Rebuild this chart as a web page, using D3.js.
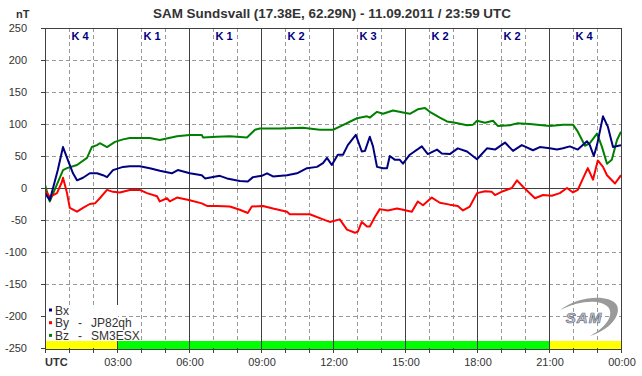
<!DOCTYPE html>
<html>
<head>
<meta charset="utf-8">
<script src="https://cdn.jsdelivr.net/npm/d3@7"></script>
<style>
    body { margin: 0; background: #fff; }
    svg { display: block; font-family: Arial, "Liberation Sans", sans-serif; }
</style>
</head>
<body>
<div id="chart"></div>
<script>
// minutes since 00:00 UTC, value in nT
var bxTimes = [0, 12, 32, 45, 57, 70, 80, 95, 112, 130, 145, 155, 170, 195, 212, 237, 262, 287, 317, 332, 362, 392, 400, 437, 455, 487, 507, 520, 542, 555, 570, 605, 630, 655, 680, 695, 705, 717, 732, 745, 757, 777, 792, 800, 812, 820, 830, 845, 855, 862, 875, 887, 895, 912, 942, 957, 980, 992, 1012, 1032, 1055, 1080, 1105, 1125, 1150, 1170, 1192, 1220, 1237, 1262, 1280, 1295, 1312, 1332, 1355, 1362, 1372, 1380, 1395, 1407, 1420, 1440]
var bxValues = [-8, -19, 28, 64, 44, 23, 12, 16, 23, 23, 20, 17, 28, 33, 34, 34, 31, 27, 23, 28, 23, 20, 15, 19, 15, 11, 10, 17, 19, 23, 18, 20, 23, 31, 33, 39, 47, 36, 52, 52, 67, 83, 57, 58, 80, 65, 33, 31, 31, 50, 44, 44, 38, 52, 65, 53, 60, 54, 53, 62, 57, 45, 62, 60, 71, 58, 67, 59, 64, 62, 60, 62, 65, 60, 73, 67, 50, 67, 112, 96, 64, 67]

var byTimes = [0, 12, 30, 42, 45, 55, 62, 80, 95, 112, 125, 137, 155, 170, 187, 212, 237, 255, 280, 287, 305, 312, 330, 362, 392, 405, 430, 462, 487, 507, 517, 545, 570, 605, 612, 662, 695, 712, 737, 755, 775, 782, 792, 805, 812, 825, 837, 857, 880, 895, 917, 932, 945, 967, 987, 1012, 1032, 1045, 1062, 1080, 1100, 1117, 1125, 1145, 1167, 1180, 1195, 1225, 1245, 1267, 1287, 1305, 1320, 1332, 1345, 1357, 1370, 1382, 1395, 1405, 1425, 1440]
var byValues = [-3, -14, -8, 9, 16, -8, -31, -37, -31, -25, -24, -16, -3, -6, -7, -3, -3, -8, -13, -21, -16, -21, -15, -19, -24, -28, -28, -29, -34, -39, -29, -28, -32, -37, -41, -41, -49, -53, -49, -65, -70, -68, -53, -60, -60, -45, -33, -35, -32, -34, -37, -21, -27, -15, -23, -26, -28, -35, -29, -8, -5, -6, -11, -5, 0, 12, 2, -16, -11, -12, -8, 0, -7, -3, 15, 31, 13, 43, 33, 20, 7, 20]

var bzTimes = [0, 12, 45, 55, 80, 105, 117, 130, 137, 155, 175, 195, 212, 262, 287, 330, 362, 392, 395, 430, 462, 505, 525, 537, 587, 645, 687, 720, 737, 780, 805, 812, 830, 845, 870, 895, 912, 932, 950, 962, 987, 1005, 1025, 1055, 1070, 1080, 1100, 1120, 1132, 1162, 1180, 1212, 1262, 1295, 1320, 1332, 1350, 1362, 1380, 1392, 1405, 1417, 1430, 1440]
var bzValues = [5, -21, 28, 31, 36, 47, 64, 67, 70, 64, 72, 76, 78, 78, 75, 81, 83, 83, 79, 80, 81, 79, 91, 93, 93, 94, 91, 91, 96, 109, 112, 110, 119, 116, 121, 118, 116, 123, 125, 119, 110, 104, 102, 98, 99, 105, 102, 105, 97, 98, 101, 100, 97, 99, 99, 88, 66, 70, 85, 65, 38, 44, 75, 88]

// K index per 3 hour block
var kIndex = ["K 4", "K 1", "K 1", "K 2", "K 3", "K 2", "K 2", "K 4"]
// status bar under the plot: start minute, end minute, colour
var statusStart = [0, 180, 1260]
var statusEnd = [180, 1260, 1440]
var statusColor = ["#ffff00", "#00ff00", "#ffff00"]

var yTicks = [250, 200, 150, 100, 50, 0, -50, -100, -150, -200, -250]
var xLabels = ["UTC", "03:00", "06:00", "09:00", "12:00", "15:00", "18:00", "21:00", "00:00"]

var seriesNames = ["Bx", "By", "Bz"]
var seriesStations = ["", "JP82qh", "SM3ESX"]
var seriesColors = ["#000080", "#ff0000", "#008000"]

//---------------------------------------------------
// init parameters
//---------------------------------------------------
var width = 642,
    height = 376
var plotLeft = 45, plotRight = 621, plotTop = 28, plotBottom = 348

var svg = d3.select("#chart").append("svg")
    .attr("width", width)
    .attr("height", height)

var x = d3.scaleLinear().domain([0, 1440]).range([plotLeft, plotRight])
var y = d3.scaleLinear().domain([-250, 250]).range([plotBottom, plotTop])

var gridColor = "#999"
var axisColor = "#404040"

//------------------------------------------
// grid
//------------------------------------------
var hours = d3.range(1, 24)
svg.selectAll(".vgrid")
    .data(hours.filter(function (h) { return h % 3 != 0 }))
    .enter().append("line")
    .attr("x1", function (h) { return x(h * 60) + 0.5 })
    .attr("x2", function (h) { return x(h * 60) + 0.5 })
    .attr("y1", plotTop)
    .attr("y2", plotBottom)
    .style("stroke", gridColor)
    .style("stroke-dasharray", "4,3")

svg.selectAll(".hgrid")
    .data(yTicks.filter(function (v) { return v != 0 && Math.abs(v) != 250 }))
    .enter().append("line")
    .attr("x1", plotLeft)
    .attr("x2", plotRight)
    .attr("y1", function (v) { return Math.round(y(v)) + 0.5 })
    .attr("y2", function (v) { return Math.round(y(v)) + 0.5 })
    .style("stroke", gridColor)
    .style("stroke-dasharray", "4,3")

svg.selectAll(".vmajor")
    .data(hours.filter(function (h) { return h % 3 == 0 }))
    .enter().append("line")
    .attr("x1", function (h) { return x(h * 60) + 0.5 })
    .attr("x2", function (h) { return x(h * 60) + 0.5 })
    .attr("y1", plotTop)
    .attr("y2", plotBottom)
    .style("stroke", axisColor)

// zero line
svg.append("line")
    .attr("x1", plotLeft).attr("x2", plotRight)
    .attr("y1", y(0) + 0.5).attr("y2", y(0) + 0.5)
    .style("stroke", axisColor)

//------------------------------------------
// status bar
//------------------------------------------
svg.selectAll(".status")
    .data(statusStart)
    .enter().append("rect")
    .attr("x", function (d) { return x(d) })
    .attr("width", function (d, i) { return x(statusEnd[i]) - x(d) })
    .attr("y", plotBottom - 7)
    .attr("height", 8)
    .style("fill", function (d, i) { return statusColor[i] })

svg.selectAll(".vmajor2")
    .data(hours.filter(function (h) { return h % 3 == 0 }))
    .enter().append("line")
    .attr("x1", function (h) { return x(h * 60) + 0.5 })
    .attr("x2", function (h) { return x(h * 60) + 0.5 })
    .attr("y1", plotBottom - 7)
    .attr("y2", plotBottom)
    .style("stroke", axisColor)

//------------------------------------------
// logo
//------------------------------------------
var logo = svg.append("g").attr("transform", "translate(588,318)")
logo.append("path")
    .attr("d", "M -28 -8 C -10 -22 20 -24 28 -14 C 34 -6 26 10 2 18 C 20 8 26 -4 20 -11 C 12 -19 -8 -18 -28 -8 Z")
    .style("fill", "#9a9a9a")
logo.append("text")
    .attr("x", -4).attr("y", 5)
    .attr("text-anchor", "middle")
    .style("font-size", "15px")
    .style("font-style", "italic")
    .style("font-weight", "bold")
    .style("letter-spacing", "1px")
    .style("fill", "#c8ccd8")
    .style("stroke", "#6a6f80")
    .style("stroke-width", "0.7px")
    .text("SAM")

//------------------------------------------
// data lines
//------------------------------------------
svg.append("clipPath").attr("id", "plot-clip")
    .append("rect")
    .attr("x", plotLeft).attr("y", plotTop)
    .attr("width", plotRight - plotLeft).attr("height", plotBottom - plotTop)

var series = [
    { t: bxTimes, v: bxValues },
    { t: byTimes, v: byValues },
    { t: bzTimes, v: bzValues }
]
var line = d3.line()
    .x(function (d) { return x(d[0]) })
    .y(function (d) { return y(d[1]) })

// green on the bottom, navy on top
var drawOrder = [2, 1, 0]
drawOrder.forEach(function (k) {
    var pts = series[k].t.map(function (t, i) { return [t, series[k].v[i]] })
    svg.append("path")
        .datum(pts)
        .attr("d", line)
        .attr("clip-path", "url(#plot-clip)")
        .style("fill", "none")
        .style("stroke", seriesColors[k])
        .style("stroke-width", 2)
        .style("stroke-linejoin", "round")
})

//------------------------------------------
// frame, ticks and labels
//------------------------------------------
svg.append("rect")
    .attr("x", plotLeft + 0.5).attr("y", plotTop + 0.5)
    .attr("width", plotRight - plotLeft).attr("height", plotBottom - plotTop + 1)
    .style("fill", "none")
    .style("stroke", axisColor)

svg.selectAll(".ytick")
    .data(yTicks)
    .enter().append("line")
    .attr("x1", plotLeft - 4).attr("x2", plotLeft)
    .attr("y1", function (v) { return Math.round(y(v)) + 0.5 })
    .attr("y2", function (v) { return Math.round(y(v)) + 0.5 })
    .style("stroke", axisColor)

svg.selectAll(".ylabel")
    .data(yTicks)
    .enter().append("text")
    .attr("x", 27)
    .attr("y", function (v) { return y(v) + 4 })
    .attr("text-anchor", "end")
    .style("font-size", "11px")
    .style("fill", "#333")
    .text(function (v) { return v })

svg.selectAll(".xtick")
    .data(d3.range(0, 25))
    .enter().append("line")
    .attr("x1", function (h) { return x(h * 60) + 0.5 })
    .attr("x2", function (h) { return x(h * 60) + 0.5 })
    .attr("y1", plotBottom)
    .attr("y2", plotBottom + 5)
    .style("stroke", axisColor)

svg.selectAll(".xlabel")
    .data(xLabels)
    .enter().append("text")
    .attr("x", function (d, i) { return i == 0 ? plotLeft : x(i * 180) + 1 })
    .attr("y", 366)
    .attr("text-anchor", function (d, i) { return i == 0 ? "start" : "middle" })
    .style("font-size", "11px")
    .style("font-weight", function (d, i) { return i == 0 ? "bold" : "normal" })
    .style("fill", "#333")
    .text(function (d) { return d })

svg.selectAll(".klabel")
    .data(kIndex)
    .enter().append("text")
    .attr("x", function (d, i) { return x(i * 180 + 90) - 1 })
    .attr("y", 40)
    .attr("text-anchor", "middle")
    .style("font-size", "11px")
    .style("font-weight", "bold")
    .style("fill", "#000080")
    .text(function (d) { return d })

svg.append("text")
    .attr("x", 332).attr("y", 18)
    .attr("text-anchor", "middle")
    .attr("textLength", 358)
    .attr("lengthAdjust", "spacingAndGlyphs")
    .style("font-size", "12px")
    .style("font-weight", "bold")
    .style("fill", "#333")
    .text("SAM Sundsvall (17.38E, 62.29N) - 11.09.2011 / 23:59  UTC")

svg.append("text")
    .attr("x", 16).attr("y", 18)
    .style("font-size", "11px")
    .style("font-weight", "bold")
    .style("fill", "#333")
    .text("nT")

//------------------------------------------
// legend
//------------------------------------------
svg.append("rect")
    .attr("x", plotLeft + 1).attr("y", 305)
    .attr("width", 72).attr("height", 12)
    .style("fill", "#fff")
svg.append("rect")
    .attr("x", plotLeft + 1).attr("y", 317)
    .attr("width", 90).attr("height", plotBottom - 7 - 317)
    .style("fill", "#fff")

var legend = svg.selectAll(".legend")
    .data(seriesNames)
    .enter().append("g")
    .attr("transform", function (d, i) { return "translate(51," + (310 + i * 12.7) + ")" })

legend.append("rect")
    .attr("x", -2).attr("y", -1.5)
    .attr("width", 3).attr("height", 3)
    .style("fill", function (d, i) { return seriesColors[i] })

legend.append("text")
    .attr("x", 4).attr("y", 4.5)
    .style("font-size", "12px")
    .style("fill", "#333")
    .text(function (d) { return d })

legend.filter(function (d, i) { return seriesStations[i] != "" })
    .append("text")
    .attr("x", 27).attr("y", 4.5)
    .style("font-size", "12px")
    .style("fill", "#333")
    .text("-")

legend.append("text")
    .attr("x", 40).attr("y", 4.5)
    .style("font-size", "12px")
    .style("fill", "#333")
    .text(function (d, i) { return seriesStations[i] })
</script>
</body>
</html>
